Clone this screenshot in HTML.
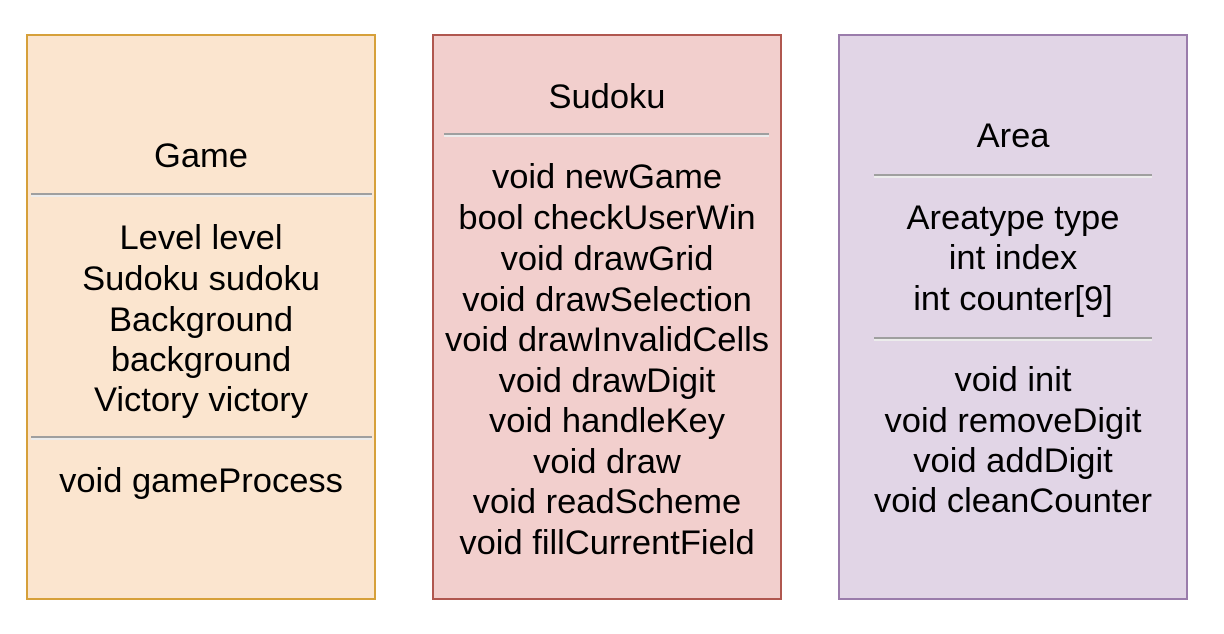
<!DOCTYPE html>
<html><head><meta charset="utf-8"><style>
body{margin:0;width:1224px;height:634px;background:#fff;position:relative;overflow:hidden;font-family:"Liberation Sans",Arial,sans-serif;}
.box{position:absolute;top:34px;height:562px;width:346px;border:2px solid;box-sizing:content-box}
.t{position:absolute;left:0;width:100%;text-align:center;font-size:34.5px;line-height:34px;color:#000;white-space:nowrap}
.sep{position:absolute;height:2px;background:#9f9f9f;border-bottom:2px solid #ececec}
</style></head><body>
<div class="box" style="left:26px;background:#fbe5cf;border-color:#d6a03a"></div>
<div class="box" style="left:432px;background:#f2cfcd;border-color:#b0574f"></div>
<div class="box" style="left:838px;background:#e1d5e6;border-color:#9a7cab"></div>

<div style="position:absolute;left:28px;top:0;width:346px;height:634px">
<div class="t" style="top:139px">Game</div>
<div class="sep" style="left:3px;width:341px;top:193px"></div>
<div class="t" style="top:221px">Level level</div>
<div class="t" style="top:262px">Sudoku sudoku</div>
<div class="t" style="top:303px">Background</div>
<div class="t" style="top:343px">background</div>
<div class="t" style="top:383px">Victory victory</div>
<div class="sep" style="left:3px;width:341px;top:436px"></div>
<div class="t" style="top:464px">void gameProcess</div>
</div>

<div style="position:absolute;left:434px;top:0;width:346px;height:634px">
<div class="t" style="top:80px">Sudoku</div>
<div class="sep" style="left:10px;width:325px;top:133px"></div>
<div class="t" style="top:160px">void newGame</div>
<div class="t" style="top:201px">bool checkUserWin</div>
<div class="t" style="top:242px">void drawGrid</div>
<div class="t" style="top:283px">void drawSelection</div>
<div class="t" style="top:323px">void drawInvalidCells</div>
<div class="t" style="top:364px">void drawDigit</div>
<div class="t" style="top:404px">void handleKey</div>
<div class="t" style="top:445px">void draw</div>
<div class="t" style="top:485px">void readScheme</div>
<div class="t" style="top:526px">void fillCurrentField</div>
</div>

<div style="position:absolute;left:840px;top:0;width:346px;height:634px">
<div class="t" style="top:119px">Area</div>
<div class="sep" style="left:34px;width:278px;top:174px"></div>
<div class="t" style="top:201px">Areatype type</div>
<div class="t" style="top:241px">int index</div>
<div class="t" style="top:282px">int counter[9]</div>
<div class="sep" style="left:34px;width:278px;top:337px"></div>
<div class="t" style="top:363px">void init</div>
<div class="t" style="top:404px">void removeDigit</div>
<div class="t" style="top:444px">void addDigit</div>
<div class="t" style="top:484px">void cleanCounter</div>
</div>
</body></html>
